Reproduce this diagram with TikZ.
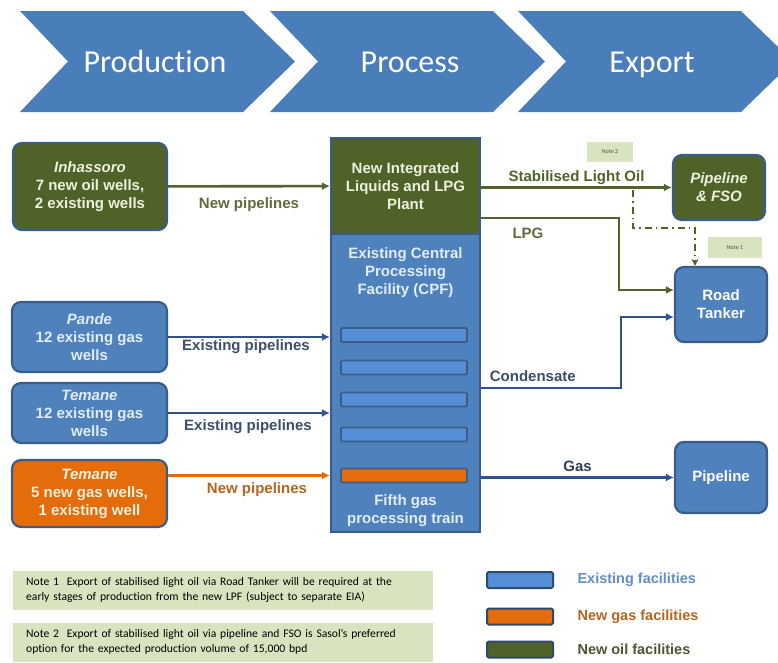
\documentclass[tikz,border=0pt]{standalone}
\usepackage{fontspec}
\setmainfont{Liberation Sans}
\newfontfamily\calibri[Ligatures=NoCommon]{Carlito}
\usetikzlibrary{calc}
\usetikzlibrary{arrows.meta}
\usetikzlibrary{positioning}

\definecolor{chevbleu}{RGB}{74,126,187}
\definecolor{bleu}{RGB}{79,129,189}
\definecolor{bleuclair}{RGB}{85,142,213}
\definecolor{bleufonce}{RGB}{56,93,138}
\definecolor{vert}{RGB}{79,98,40}
\definecolor{orangeneuf}{RGB}{228,108,10}
\definecolor{notevert}{RGB}{216,228,192}
\definecolor{texteclair}{RGB}{236,241,222}
\definecolor{texteblanc}{RGB}{226,236,248}
\definecolor{flechevert}{RGB}{84,98,44}
\definecolor{flechebleu}{RGB}{47,82,143}
\definecolor{etiqvert}{RGB}{95,107,60}
\definecolor{etiqbleu}{RGB}{59,79,107}
\definecolor{etiqorange}{RGB}{181,101,29}

\begin{document}
\begin{tikzpicture}[x=1pt,y=-1pt,
    puits/.style={draw=bleufonce,line width=2.2pt,rounded corners=9pt,align=center,
      font=\bfseries\fontsize{15}{18}\selectfont,inner sep=0pt},
    colonne/.style={draw=bleufonce,line width=2.2pt,align=center,
      font=\bfseries\fontsize{15}{18}\selectfont,inner sep=0pt},
    train/.style={draw=bleufonce,line width=1.6pt,rounded corners=1pt,
      minimum width=126pt,minimum height=14pt,inner sep=0pt},
    fleche/.style={line width=2.6pt,-{Latex[length=8pt,width=8pt]}},
    etiq/.style={font=\bfseries\fontsize{15}{18}\selectfont},
    petitenote/.style={fill=notevert,inner sep=0pt,font=\calibri\fontsize{6}{7}\selectfont,text=black!70},
    note/.style={fill=notevert,anchor=west,minimum width=420pt,minimum height=39pt,
      text width=394pt,inner xsep=13pt,align=left,font=\calibri\fontsize{11.6}{15}\selectfont},
    legende/.style={draw=bleufonce!80!black,line width=2pt,rounded corners=1.5pt,
      minimum width=66pt,minimum height=16pt,inner sep=0pt}]
  \useasboundingbox (0,0) rectangle (778,662);

  % Les trois chevrons
  \begin{scope}
    \clip (0,0) rectangle (778,662);
    \foreach \x/\mot/\cx in {20/Production/155,270/Process/410,518/Export/652}{
      \fill[chevbleu] (\x,11) -- ++(223,0) -- ++(52,50.5) -- ++(-52,50.5) -- ++(-223,0) -- ++(48,-50.5) -- cycle;
      \node[text=white,anchor=base,font=\calibri\fontsize{32}{36}\selectfont] at (\cx,72) {\mot};
    }
  \end{scope}

  % Champs de production
  \node[puits,fill=vert,text=texteclair,minimum width=154pt,minimum height=87pt] (inhassoro) at (90,186.5)
    {\textit{Inhassoro}\\7 new oil wells,\\2 existing wells};
  \node[puits,fill=bleu,text=texteblanc,minimum width=155pt,minimum height=70pt] (pande) at (89.5,337)
    {\textit{Pande}\\12 existing gas\\wells};
  \node[puits,fill=bleu,text=texteblanc,minimum width=155pt,minimum height=60pt] (temane) at (89.5,413)
    {\textit{Temane}\\12 existing gas\\wells};
  \node[puits,fill=orangeneuf,text=texteclair,minimum width=155pt,minimum height=67pt] (temaneneuf) at (89.5,493.5)
    {\textit{Temane}\\5 new gas wells,\\1 existing well};

  % Colonne de traitement
  \node[colonne,fill=vert,text=texteclair,minimum width=149pt,minimum height=96pt] (oilplant) at (405.5,186)
    {New Integrated\\Liquids and LPG\\Plant};
  \node[colonne,fill=bleu,minimum width=149pt,minimum height=298pt] (cpf) at (405.5,383) {};
  \node[colonne,draw=none,text=texteblanc] (cpftitre) at (405.5,273) {Existing Central\\Processing\\Facility (CPF)};
  \node[colonne,draw=none,text=texteblanc] (traintitre) at (405.5,510.5) {Fifth gas\\processing train};
  \foreach \y [count=\i] in {335,367.5,399.5,434.5}
    \node[train,fill=bleuclair] (train\i) at (404,\y) {};
  \node[train,fill=orangeneuf] (train5) at (404,475.5) {};

  % Destinations
  \node[puits,fill=vert,text=texteclair,minimum width=92pt,minimum height=65pt] (fso) at (719,187.5)
    {\textit{Pipeline}\\\textit{\& FSO}};
  \node[puits,fill=bleu,text=white,minimum width=92pt,minimum height=75pt] (tanker) at (721,304.5)
    {Road\\Tanker};
  \node[puits,fill=bleu,text=white,minimum width=92pt,minimum height=71pt] (pipe) at (721,477.5)
    {Pipeline};
  \node[petitenote,minimum width=46pt,minimum height=20pt] (note2) at (610,152) {Note 2};
  \node[petitenote,minimum width=54pt,minimum height=21pt] (note1) at (735,247.5) {Note 1};

  % Conduites d'entree
  \draw[fleche,flechevert] (inhassoro) -- node[etiq,text=etiqvert,yshift=-18pt] {New pipelines} (oilplant);
  \draw[fleche,flechebleu] (pande.east) -- node[etiq,text=etiqbleu,yshift=-10pt,xshift=-3pt] {Existing pipelines} (pande.east -| cpf.west);
  \draw[fleche,flechebleu] (temane.east) -- node[etiq,text=etiqbleu,yshift=-14pt,xshift=-1pt] {Existing pipelines} (temane.east -| cpf.west);
  \draw[fleche,orangeneuf] (temaneneuf.east |- train5) -- node[etiq,text=etiqorange,yshift=-14pt,xshift=8pt] {New pipelines} (train5 -| cpf.west);

  % Conduites de sortie
  \draw[fleche,flechevert] (oilplant.east |- fso.west) -- node[etiq,text=vert,yshift=10pt] {Stabilised Light Oil} (fso.west);
  \draw[fleche,flechevert] ([yshift=-32pt]oilplant.east) -- node[etiq,text=etiqvert,pos=.34,yshift=-15pt] {LPG} ([xshift=-55pt,yshift=-32pt]oilplant.east -| tanker.west)
    |- ([yshift=14.5pt]tanker.west);
  \draw[fleche,flechebleu] ([yshift=-5pt]cpf.east) -- node[etiq,text=etiqbleu,pos=.37,yshift=12pt] {Condensate} ([xshift=-53pt,yshift=-5pt]cpf.east -| tanker.west)
    |- ([yshift=-12.5pt]tanker.west);
  \draw[fleche,flechebleu] (pipe.west -| cpf.east) -- node[etiq,text=etiqbleu!80!black,yshift=11pt] {Gas} (pipe.west);

  % Variante vers le camion-citerne
  \coordinate (branche) at (633,190);
  \draw[vert,line width=1.8pt,dash pattern=on 7pt off 4pt on 1.5pt off 4pt,-{Stealth[length=7pt,width=7pt]}]
    (branche) -- ++(0,38) -| ([xshift=-26pt]tanker.north);

  % Notes
  \node[note] (notea) at (13,590) {Note 1\ \ Export of stabilised light oil via Road Tanker will be required at the\\early stages of production from the new LPF (subject to separate EIA)};
  \node[note] (noteb) at (13,642) {Note 2\ \ Export of stabilised light oil via pipeline and FSO is Sasol’s preferred\\option for the expected production volume of 15,000 bpd};

  % Legende
  \node[legende,fill=bleuclair] (leg1) at (520,580) {};
  \node[legende,fill=orangeneuf] (leg2) at (520,616.5) {};
  \node[legende,fill=vert] (leg3) at (520,649.5) {};
  \node[etiq,font=\bfseries\fontsize{14.5}{17}\selectfont,text=bleu!90,anchor=west,right=20pt of leg1] (legtxt1) {Existing facilities};
  \node[etiq,font=\bfseries\fontsize{14.5}{17}\selectfont,text=etiqorange,anchor=west,right=20pt of leg2] (legtxt2) {New gas facilities};
  \node[etiq,font=\bfseries\fontsize{14.5}{17}\selectfont,text=etiqvert!80!black,anchor=west,right=20pt of leg3] (legtxt3) {New oil facilities};
\end{tikzpicture}
\end{document}
